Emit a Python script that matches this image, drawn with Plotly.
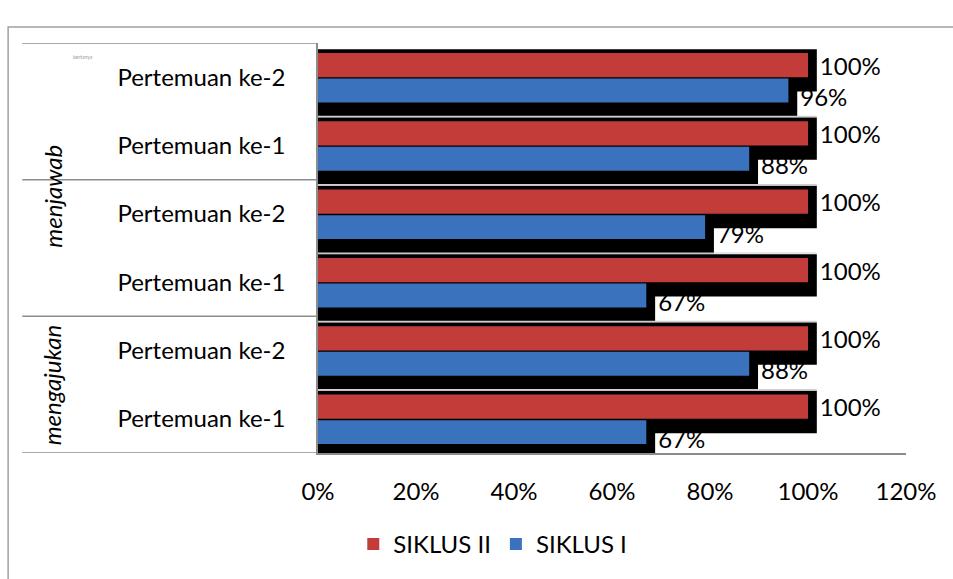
import plotly.graph_objects as go

# ---- data (bottom to top) ----
positions = [0, 1, 2, 3, 4, 5]
categories = ["Pertemuan ke-1", "Pertemuan ke-2",
              "Pertemuan ke-1", "Pertemuan ke-2",
              "Pertemuan ke-1", "Pertemuan ke-2"]
groups = ["mengajukan", "menjawab", "bertanya"]
siklus_1 = [0.67, 0.88, 0.67, 0.79, 0.88, 0.96]
siklus_2 = [1.00, 1.00, 1.00, 1.00, 1.00, 1.00]
x_ticks = [0, 0.2, 0.4, 0.6, 0.8, 1.0, 1.2]

RED = "#C23D3A"
BLUE = "#3A72BE"
FONT = "Lato"
SH_DX = 0.018  # shadow horizontal offset in axis units (style)

def pct(v):
    return f"{round(v * 100)}%"

fig = go.Figure()

# labels (drawn beneath shadows, as in the reference)
fig.add_trace(go.Bar(
    y=positions, x=[v + SH_DX for v in siklus_2], orientation="h",
    offset=0.0, width=0.355, marker_color="rgba(0,0,0,0)",
    text=[pct(v) for v in siklus_2], textposition="outside",
    textfont=dict(family=FONT, size=24, color="black"),
    constraintext="none", cliponaxis=False, showlegend=False, hoverinfo="skip"))
fig.add_trace(go.Bar(
    y=positions, x=[v + SH_DX for v in siklus_1], orientation="h",
    offset=-0.46, width=0.35, marker_color="rgba(0,0,0,0)",
    text=[pct(v) for v in siklus_1], textposition="outside",
    textfont=dict(family=FONT, size=24, color="black"),
    constraintext="none", cliponaxis=False, showlegend=False, hoverinfo="skip"))

# shadows
fig.add_trace(go.Bar(
    y=positions, x=[v + SH_DX for v in siklus_2], orientation="h",
    offset=-0.21, width=0.62, marker=dict(color="black", line_width=0),
    showlegend=False, hoverinfo="skip"))
fig.add_trace(go.Bar(
    y=positions, x=[v + SH_DX for v in siklus_1], orientation="h",
    offset=-0.575, width=0.56, marker=dict(color="black", line_width=0),
    showlegend=False, hoverinfo="skip"))

# real bars
fig.add_trace(go.Bar(
    name="SIKLUS II", y=positions, x=siklus_2, orientation="h",
    offset=0.0, width=0.355, marker=dict(color=RED, line_width=0)))
fig.add_trace(go.Bar(
    name="SIKLUS I", y=positions, x=siklus_1, orientation="h",
    offset=-0.37, width=0.35, marker=dict(color=BLUE, line_width=0)))

shapes = []
# light separators between the shadow blocks
for p in positions[1:]:
    b = p - 0.573
    shapes.append(dict(type="line", xref="x", yref="y", x0=0, x1=max(siklus_2) + SH_DX,
                       y0=b, y1=b, line=dict(color="#cfcfcf", width=1.2), layer="above"))
# group separators in the label area
for b in [-0.5, 1.5, 3.5, 5.5]:
    shapes.append(dict(type="line", xref="paper", yref="y", x0=-0.503, x1=0,
                       y0=b, y1=b, line=dict(color="#8c8c8c", width=1.5), layer="above"))
# outer frame
shapes.append(dict(type="rect", xref="paper", yref="paper", x0=-0.527, x1=1.1,
                   y0=-0.33, y1=1.039, line=dict(color="#a0a0a0", width=1.5),
                   fillcolor="rgba(0,0,0,0)", layer="below"))

annotations = [
    dict(text="<i>mengajukan</i>", xref="paper", yref="y", x=-0.481, y=0.5,
         textangle=-90, showarrow=False, font=dict(family=FONT, size=24, color="black")),
    dict(text="<i>menjawab</i>", xref="paper", yref="y", x=-0.481, y=2.5, yshift=52,
         textangle=-90, showarrow=False, font=dict(family=FONT, size=24, color="black")),
    dict(text="bertanya", xref="paper", yref="paper", x=-0.42, y=0.978,
         showarrow=False, font=dict(family=FONT, size=5, color="#9a9a9a")),
]

fig.update_layout(
    width=953, height=579,
    margin=dict(l=318, r=47, t=43, b=123),
    paper_bgcolor="white", plot_bgcolor="white",
    barmode="overlay",
    font=dict(family=FONT, size=24, color="black"),
    showlegend=True,
    legend=dict(orientation="h", x=0.06, xanchor="left", y=-0.223, yanchor="middle",
                font=dict(family=FONT, size=24, color="black"),
                itemwidth=30, bgcolor="rgba(0,0,0,0)"),
    shapes=shapes, annotations=annotations,
    xaxis=dict(range=[0, 1.2], tickvals=x_ticks, tickformat=".0%",
               showgrid=False, zeroline=False, showline=True,
               linecolor="#8c8c8c", linewidth=1.5, ticks="",
               ticklabelstandoff=16, tickfont=dict(family=FONT, size=24)),
    yaxis=dict(range=[-0.5, 5.5], tickvals=positions, ticktext=categories,
               showgrid=False, zeroline=False, showline=True,
               linecolor="#8c8c8c", linewidth=1.5, ticks="",
               ticklabelstandoff=26, tickfont=dict(family=FONT, size=24)),
)

fig.write_html("out.html", config={"displayModeBar": False},
               post_script="document.body.style.margin='0';document.body.style.overflow='hidden';")
